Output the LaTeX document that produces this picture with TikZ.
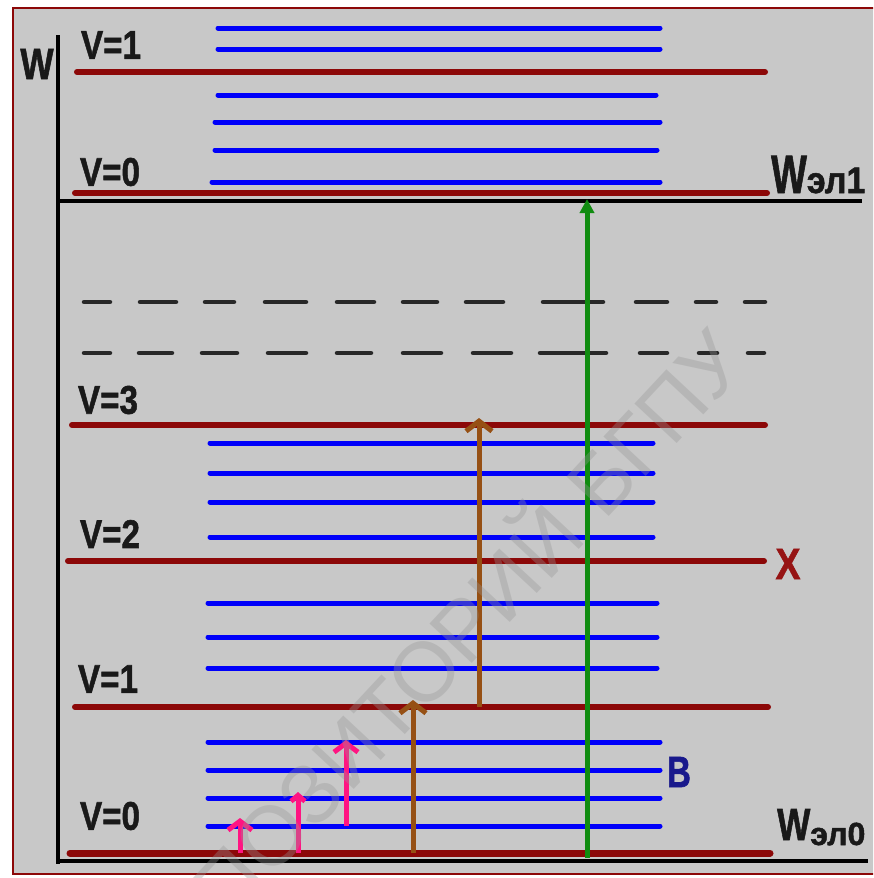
\documentclass[tikz,border=0pt]{standalone}
\usepackage{fontspec}
\setmainfont{Liberation Sans}[BoldFeatures={FakeBold=1.5}]
\usetikzlibrary{arrows.meta}
\definecolor{bg}{RGB}{200,200,200}
\definecolor{lvl}{RGB}{140,8,8}
\definecolor{vib}{RGB}{0,0,250}
\definecolor{brn}{RGB}{150,80,20}
\definecolor{grn}{RGB}{16,140,16}
\definecolor{pnk}{RGB}{255,20,130}
\definecolor{xred}{RGB}{150,20,20}
\definecolor{bblue}{RGB}{25,25,140}
\definecolor{wmark}{RGB}{150,150,150}
\definecolor{dsh}{RGB}{40,40,40}
\newcommand\nrw[2]{\scalebox{#1}[1]{#2}}
\begin{document}
\begin{tikzpicture}[x=1pt,y=-1pt,
  elev/.style={draw=lvl, line width=6pt, line cap=round},
  vlev/.style={draw=vib, line width=5pt, line cap=round},
  axisline/.style={draw=black, line width=4pt},
  dseg/.style={draw=dsh, line width=4.5pt, line cap=round},
  vlab/.style={font=\fontsize{40}{40}\selectfont\bfseries, inner sep=0pt, text=black!90},
  wlab/.style={inner sep=0pt, text=black!90, anchor=base west},
  garrow/.style={draw=grn, line width=5pt, -{Triangle[length=14pt,width=14pt]}},
  barrow/.style={draw=brn, line width=5pt, -{Straight Barb[length=10pt,width=26pt,line width=5pt]}},
  parrow/.style={draw=pnk, line width=5pt, -{Straight Barb[length=9pt,width=24pt,line width=5pt]}},
  wmk/.style={text=wmark, opacity=0.35, font=\fontsize{84}{84}\selectfont, inner sep=0pt}
]
\useasboundingbox (0,0) rectangle (873,878);
\clip (0,0) rectangle (873,878);
\fill[white] (0,0) rectangle (873,878);
\filldraw[fill=bg, draw=lvl, line width=2pt] (13,8) rectangle (885,874);

% axis
\coordinate (axtop) at (58,35);
\coordinate (axbot) at (58,864);
\draw[axisline] (axtop) -- (axbot);
\draw[axisline] (56,201) -- (862,201);
\draw[axisline] (56,861) -- (868,861);

% upper electronic state
\foreach \y/\a/\b in {28/218/660, 49/218/660, 95/218/656, 122/215/660, 150/215/657, 182/212/660}
  \draw[vlev] (\a,\y) -- (\b,\y);
\draw[elev] (77,72) -- (765,72);
\draw[elev] (75,193) -- (767,193);

% dashed levels
\foreach \a/\b in {84/110, 140/176, 205/234, 265/306, 337/374, 403/437, 466/503, 543/603, 636/667, 696/716, 745/765}
  \draw[dseg] (\a,302) -- (\b,302);
\foreach \a/\b in {84/110, 139/172, 202/237, 268/306, 337/371, 403/441, 473/511, 540/606, 640/667, 699/717, 748/764}
  \draw[dseg] (\a,353) -- (\b,353);

% lower electronic state
\foreach \y in {443,473,502,537}
  \draw[vlev] (210,\y) -- (653,\y);
\foreach \y in {603,637,668}
  \draw[vlev] (208,\y) -- (657,\y);
\foreach \y in {742,770,798,826}
  \draw[vlev] (208,\y) -- (660,\y);
\draw[elev] (72,425) -- (765,425);
\draw[elev] (68,561) -- (764,561);
\draw[elev] (75,707) -- (768,707);
\draw[elev, line width=7pt] (70,853) -- (770,853);

% labels
\node[vlab] (lv1u) at (111,45) {\nrw{0.83}{V=1}};
\node[vlab] (lv0u) at (110,172) {\nrw{0.83}{V=0}};
\node[vlab] (lv3) at (108,400) {\nrw{0.83}{V=3}};
\node[vlab] (lv2) at (110,534) {\nrw{0.83}{V=2}};
\node[vlab] (lv1) at (108,679) {\nrw{0.83}{V=1}};
\node[vlab] (lv0) at (110,816) {\nrw{0.83}{V=0}};
\node[vlab, font=\fontsize{44}{44}\selectfont\bfseries] (lw) at (37,64) {\nrw{0.8}{W}};
\node[wlab] (we1) at (771,193) {\nrw{0.7}{\fontsize{54}{54}\selectfont\bfseries W}\nrw{0.92}{\fontsize{37}{37}\selectfont\bfseries эл1}};
\node[wlab] (we0) at (777,840) {\nrw{0.78}{\fontsize{45}{45}\selectfont\bfseries W}\raisebox{-5pt}{\nrw{1.0}{\fontsize{32}{32}\selectfont\bfseries эл0}}};
\node[vlab, text=xred, font=\fontsize{44}{44}\selectfont\bfseries] (lx) at (788,564) {\nrw{0.85}{X}};
\node[vlab, text=bblue, font=\fontsize{44}{44}\selectfont\bfseries] (lb) at (679,772) {\nrw{0.75}{B}};

% transitions
\coordinate (g0) at (587,858);
\coordinate (g1) at (587,199);
\draw[garrow] (g0) -- (g1);
\coordinate (b10) at (479,707);
\coordinate (b11) at (479,418);
\draw[barrow] (b10) -- (b11);
\coordinate (b20) at (413,853);
\coordinate (b21) at (413,700);
\draw[barrow] (b20) -- (b21);
\coordinate (p10) at (240,853);
\coordinate (p11) at (240,818);
\draw[parrow] (p10) -- (p11);
\coordinate (p20) at (298,853);
\coordinate (p21) at (298,792);
\draw[draw=pnk, line width=5pt, -{Straight Barb[length=6pt,width=14pt,line width=5pt]}] (p20) -- (p21);
\coordinate (p30) at (346,826);
\coordinate (p31) at (346,740);
\draw[parrow] (p30) -- (p31);

% watermark
\node[wmk, rotate=47] (wm) at (424,660) {РЕПОЗИТОРИЙ БГПУ};
\end{tikzpicture}
\end{document}
